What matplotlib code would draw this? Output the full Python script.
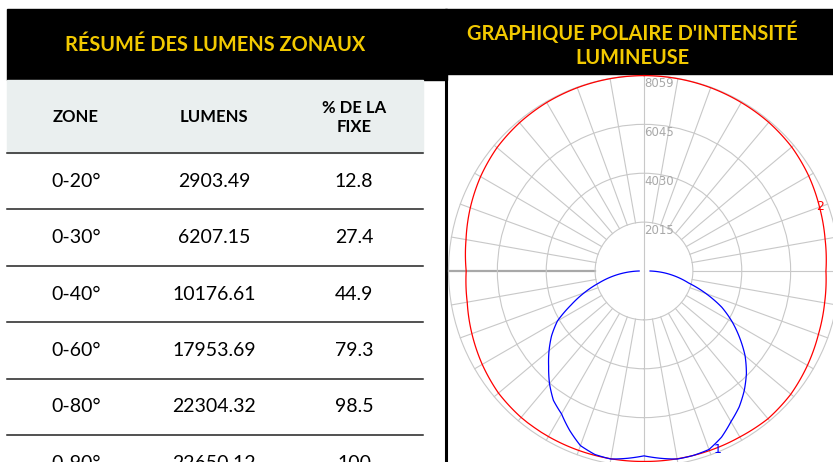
import numpy as np
import matplotlib.pyplot as plt
from matplotlib.patches import Rectangle

plt.rcParams['font.family'] = ['Lato', 'DejaVu Sans']

# zonal lumen summary table
zones = ['0-20°', '0-30°', '0-40°', '0-60°', '0-80°', '0-90°']
lumens = [2903.49, 6207.15, 10176.61, 17953.69, 22304.32, 22650.12]
pct_fixture = [12.8, 27.4, 44.9, 79.3, 98.5, 100]
headers = ['ZONE', 'LUMENS', '% DE LA\nFIXE']

# polar candela plot (angle from nadir, deg)
ring_values = [2015, 4030, 6045, 8059]
blue_angles = [0, 5, 10, 15, 20, 25, 30, 35, 40, 45, 50, 55, 60, 65, 70, 75, 80, 85, 90]
blue_left = [7620, 7750, 7870, 7830, 7660, 7250, 6800, 6510, 6060, 5560, 5110,
             4650, 4120, 3320, 2620, 1940, 1360, 780, 200]
blue_right = [7620, 7750, 7870, 7870, 7830, 7560, 7170, 6840, 6430, 5970, 5440,
              4820, 4200, 3540, 2720, 1900, 1360, 820, 250]
red_angles = [0, 10, 20, 30, 40, 50, 60, 70, 80, 90, 100, 110, 120, 130, 140, 150, 160, 170, 180]
red_left = [7850, 7860, 7870, 7880, 7880, 7830, 7700, 7550, 7400, 7330, 7450,
            7620, 7780, 7910, 7980, 8020, 8040, 8050, 8055]
red_right = [7850, 7860, 7880, 7900, 7950, 7900, 7780, 7650, 7560, 7500, 7580,
             7700, 7840, 7950, 8000, 8020, 8040, 8050, 8055]

yellow = '#f2c900'
grid_c = '#c8c8c8'

fig = plt.figure(figsize=(8.33, 4.62), dpi=100)

# background layer in pixel units
bg = fig.add_axes([0, 0, 1, 1])
bg.set_xlim(0, 833)
bg.set_ylim(462, 0)
bg.axis('off')

bg.add_patch(Rectangle((7, 9), 440, 71, color='black'))
bg.add_patch(Rectangle((445, 9), 388, 65, color='black'))
bg.add_patch(Rectangle((7, 80), 416, 73, color='#eaefef'))
bg.plot([446.5, 446.5], [74, 462], color='black', lw=2.2)

bg.text(215, 45, 'RÉSUMÉ DES LUMENS ZONAUX', ha='center', va='center',
        color=yellow, fontsize=14.4, fontweight='bold')
bg.text(632, 33, "GRAPHIQUE POLAIRE D'INTENSITÉ", ha='center', va='center',
        color=yellow, fontsize=14.4, fontweight='bold')
bg.text(632, 58, 'LUMINEUSE', ha='center', va='center',
        color=yellow, fontsize=14.4, fontweight='bold')

col_x = [76, 214, 354]
for x, h in zip(col_x, headers):
    bg.text(x, 117.5, h, ha='center', va='center', fontsize=12,
            fontweight='bold', linespacing=1.3)

row_h = 56.4
top = 153
for i in range(len(zones)):
    y0 = top + i * row_h
    bg.plot([7, 423], [y0, y0], color='#222222', lw=1.1)
    yc = y0 + row_h / 2
    bg.text(col_x[0], yc, zones[i], ha='center', va='center', fontsize=14)
    bg.text(col_x[1], yc, f'{lumens[i]:.2f}', ha='center', va='center', fontsize=14)
    bg.text(col_x[2], yc, f'{pct_fixture[i]:g}', ha='center', va='center', fontsize=14)

# polar chart
cx, cy = 644, 271
rmax = 8300
R = 195.5 * rmax / ring_values[-1]
ax = fig.add_axes([(cx - R) / 833, (462 - cy - R) / 462, 2 * R / 833, 2 * R / 462],
                  projection='polar')
ax.set_theta_zero_location('S')
ax.set_ylim(0, rmax)
ax.set_facecolor('none')
ax.spines['polar'].set_visible(False)
ax.set_xticks([])
ax.set_yticks(ring_values)
ax.set_yticklabels([])
ax.yaxis.grid(True, color=grid_c, lw=0.8)

for d in range(-170, 180, 10):
    if d == 0:
        continue
    c, w = (('#a8a8a8', 1.6) if d == -90 else (grid_c, 0.8))
    ax.plot([np.radians(d)] * 2, [ring_values[0], ring_values[-1]], color=c, lw=w, zorder=1)
ax.plot([0, 0], [0, ring_values[-1]], color=grid_c, lw=0.8, zorder=1)
ax.plot([np.pi, np.pi], [0, ring_values[-1]], color=grid_c, lw=0.8, zorder=1)

for v in ring_values:
    ax.text(np.pi, v - 330, str(v), ha='left', va='center', color='#a8a8a8',
            fontsize=8.5, family='DejaVu Sans')

ba = np.array(blue_angles)
blue_t = np.radians(np.concatenate([-ba[::-1], ba[1:]]))
blue_r = np.concatenate([np.array(blue_left)[::-1], np.array(blue_right)[1:]])
ra = np.array(red_angles)
red_t = np.radians(np.concatenate([-ra[::-1], ra[1:]]))
red_r = np.concatenate([np.array(red_left)[::-1], np.array(red_right)[1:]])

lines = ax.plot(red_t, red_r, color='#ff0000', lw=0.9, zorder=3)
lines += ax.plot(blue_t, blue_r, color='#0000ff', lw=0.9, zorder=3)
for ln in lines:
    # draw segments as arcs in polar space
    ln.get_path()._interpolation_steps = 16

ax.text(np.radians(110), 7720, '2', color='#ff0000', fontsize=9, ha='center', va='center',
        family='DejaVu Sans')
ax.text(np.radians(22.5), 7980, '1', color='#0000ff', fontsize=9, ha='center', va='center',
        family='DejaVu Sans')

fig.savefig('out.png', dpi=100)
